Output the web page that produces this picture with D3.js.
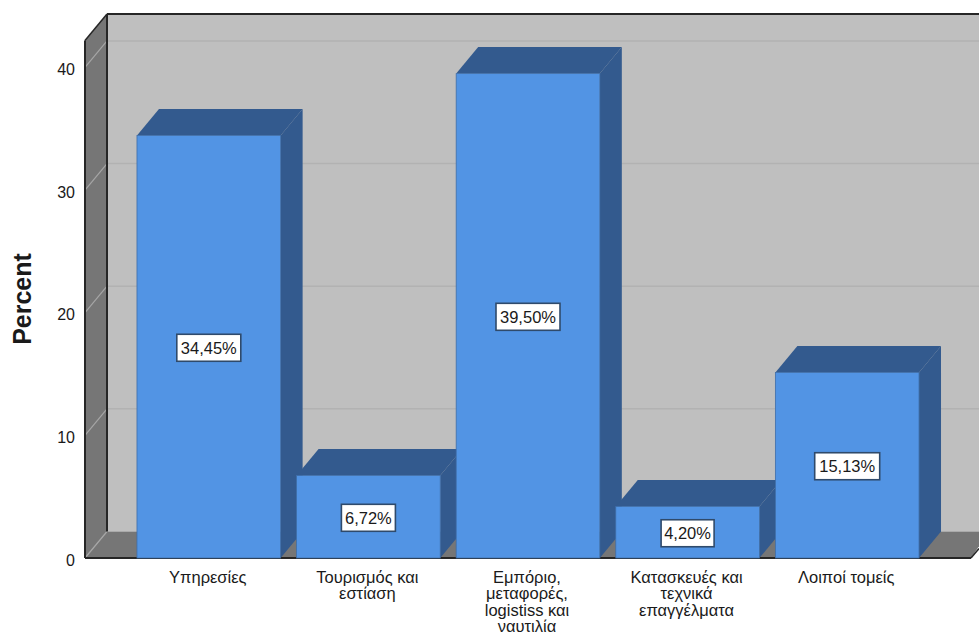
<!DOCTYPE html>
<html>
<head>
<meta charset="utf-8">
<script src="https://cdn.jsdelivr.net/npm/d3@7"></script>
<style>
  html, body { margin: 0; padding: 0; background: #fff; }
  svg { display: block; }
  text { font-family: "Liberation Sans", Arial, sans-serif; fill: #1a1a1a; }
</style>
</head>
<body>
<svg id="chart" width="979" height="636"></svg>
<script>
const categories = ["Υπηρεσίες", "Τουρισμός και εστίαση", "Εμπόριο, μεταφορές, logistiss και ναυτιλία", "Κατασκευές και τεχνικά επαγγέλματα", "Λοιποί τομείς"];
const categoryLines = [["Υπηρεσίες"], ["Τουρισμός και", "εστίαση"], ["Εμπόριο,", "μεταφορές,", "logistiss και", "ναυτιλία"], ["Κατασκευές και", "τεχνικά", "επαγγέλματα"], ["Λοιποί τομείς"]];
const percentValues = [34.45, 6.72, 39.50, 4.20, 15.13];
const percentLabels = ["34,45%", "6,72%", "39,50%", "4,20%", "15,13%"];
const yTicks = [0, 10, 20, 30, 40];
const yMax = 42.2;

const colors = { wall: "#bfbfbf", side: "#767676", bar: "#5294e4", barDark: "#335a8e", grid: "#b2b2b2", gridSide: "#a6a6a6", frame: "#262626" };

// Oblique projection offset between the front plane and the back wall
const depth = { x: 22, y: -26.5 };
const frontLeft = 85;
const frontRight = 971;

const svg = d3.select("#chart");
const y = d3.scaleLinear().domain([0, yMax]).range([558, 40.5]);
const x = d3.scaleBand().domain(categories).range([129, 927]).paddingInner(0.1).paddingOuter(0.05);
const poly = pts => pts.map(p => p.join(",")).join(" ");

const backLeft = frontLeft + depth.x;
const backBottom = y(0) + depth.y;
const backTop = y(yMax) + depth.y;

// Back wall, side wall and floor
svg.append("rect").attr("x", backLeft).attr("y", backTop).attr("width", 979 - backLeft).attr("height", backBottom - backTop).attr("fill", colors.wall);
svg.append("polygon").attr("points", poly([[frontLeft, y(0)], [backLeft, backBottom], [backLeft, backTop], [frontLeft, y(yMax)]])).attr("fill", colors.side);
svg.append("polygon").attr("points", poly([[frontLeft, y(0)], [backLeft, backBottom], [979 + 10, backBottom], [frontRight, y(0)]])).attr("fill", colors.side);

// Gridlines wrap from the side wall onto the back wall
yTicks.forEach(t => {
  svg.append("line").attr("x1", frontLeft).attr("y1", y(t)).attr("x2", backLeft).attr("y2", y(t) + depth.y).attr("stroke", colors.gridSide).attr("stroke-width", 1.2);
  if (t > 0) svg.append("line").attr("x1", backLeft).attr("y1", y(t) + depth.y).attr("x2", 979).attr("y2", y(t) + depth.y).attr("stroke", colors.grid).attr("stroke-width", 1.5);
});

// Frame edges
const frame = (a, b, w) => svg.append("line").attr("x1", a[0]).attr("y1", a[1]).attr("x2", b[0]).attr("y2", b[1]).attr("stroke", colors.frame).attr("stroke-width", w);
frame([backLeft, backTop], [979, backTop], 2.2);
frame([backLeft, backTop], [backLeft, backBottom], 2);
frame([frontLeft, y(yMax)], [backLeft, backTop], 1.5);
frame([frontLeft, y(yMax)], [frontLeft, y(0)], 2);
frame([frontLeft, y(0)], [frontRight, y(0)], 2);
frame([frontRight, y(0)], [979, y(0) - 9.5], 1.5);

// Extruded bars: top and side faces first, front face over them
const bars = svg.append("g").selectAll("g").data(categories).join("g");
bars.each(function(c, i) {
  const g = d3.select(this);
  const x0 = x(c), x1 = x0 + x.bandwidth();
  const top = y(percentValues[i]), base = y(0);
  g.append("polygon").attr("points", poly([[x0, top], [x0 + depth.x, top + depth.y], [x1 + depth.x, top + depth.y], [x1, top]])).attr("fill", colors.barDark);
  g.append("polygon").attr("points", poly([[x1, top], [x1 + depth.x, top + depth.y], [x1 + depth.x, base + depth.y], [x1, base]])).attr("fill", colors.barDark);
  g.append("rect").attr("x", x0).attr("y", top).attr("width", x.bandwidth()).attr("height", base - top).attr("fill", colors.bar).attr("stroke", "#3f6ea8").attr("stroke-width", 0.8);
});

// Value labels in boxed callouts at mid-height of each bar
const labelWidths = [64, 54, 64, 53, 65];
const labels = svg.append("g").selectAll("g").data(categories).join("g");
labels.each(function(c, i) {
  const g = d3.select(this);
  const cx = x(c) + x.bandwidth() / 2;
  const cy = y(percentValues[i] / 2) + 1;
  const w = labelWidths[i], h = 27;
  g.append("rect").attr("x", cx - w / 2).attr("y", cy - h / 2).attr("width", w).attr("height", h).attr("fill", "#fff").attr("stroke", "#2f4a6b").attr("stroke-width", 1.6);
  g.append("text").attr("x", cx).attr("y", cy + 6).attr("text-anchor", "middle").attr("font-size", 16.5).text(percentLabels[i]);
});

// Value axis labels
svg.append("g").selectAll("text").data(yTicks).join("text")
  .attr("x", 75).attr("y", t => y(t) + 7.5).attr("text-anchor", "end").attr("font-size", 16).text(t => t);

svg.append("text").attr("transform", "translate(31,299) rotate(-90)").attr("text-anchor", "middle")
  .attr("font-size", 25).attr("font-weight", "bold").attr("fill", "#000").text("Percent");

// Category labels, one tspan per wrapped line
svg.append("g").selectAll("text").data(categories).join("text")
  .attr("text-anchor", "middle").attr("font-size", 16.5)
  .each(function(c, i) {
    const cx = x(c) + x.bandwidth() / 2 - 1;
    d3.select(this).selectAll("tspan").data(categoryLines[i]).join("tspan")
      .attr("x", cx).attr("y", (d, j) => 583 + j * 16.3).text(d => d);
  });
</script>
</body>
</html>
